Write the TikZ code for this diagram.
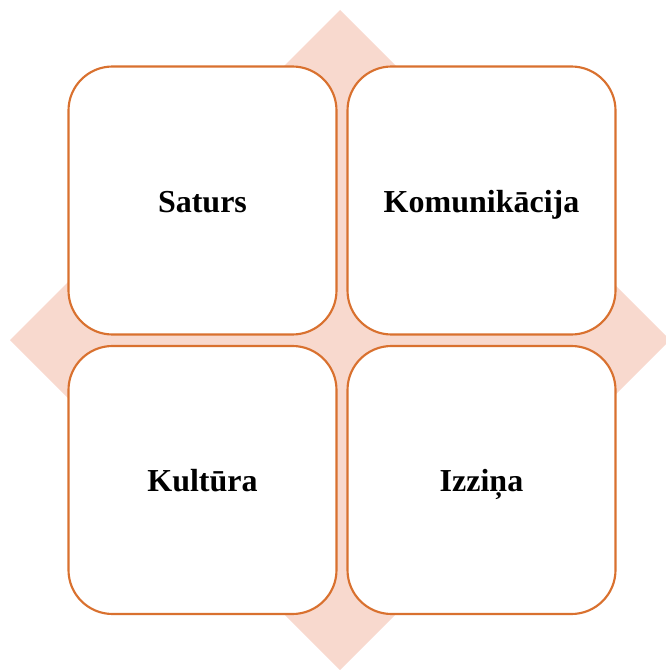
\documentclass[tikz,border=0pt]{standalone}
\usepackage{fontspec}
\setmainfont{Liberation Serif}
\definecolor{edgeorange}{HTML}{D9712F}
\definecolor{diamondfill}{HTML}{F8D9CE}
\begin{document}
\begin{tikzpicture}[x=0.75pt,y=-0.75pt,
  quad/.style={draw=edgeorange, line width=1.6pt, fill=white,
    rounded corners=33pt, minimum width=268*0.75pt, minimum height=268*0.75pt,
    inner sep=0pt, text height=20pt, text depth=2.6pt,
    font=\fontsize{24}{28}\selectfont\bfseries}]
  \useasboundingbox (0,0) rectangle (665,670);
  % background diamond
  \fill[diamondfill] (340,10) -- (670,340) -- (340,670) -- (10,340) -- cycle;
  % four quadrant boxes
  \node[quad] (saturs) at (202.5,200.5) {Saturs};
  \node[quad] (komunikacija) at (481.5,200.5) {Komunikācija};
  \node[quad] (kultura) at (202.5,480) {Kultūra};
  \node[quad] (izzina) at (481.5,480) {Izziņa};
\end{tikzpicture}
\end{document}
